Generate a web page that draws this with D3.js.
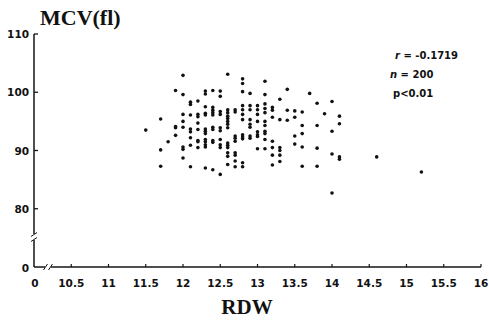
<!DOCTYPE html>
<html>
<head>
<meta charset="utf-8">
<script src="https://cdn.jsdelivr.net/npm/d3@7"></script>
<style>
  body { margin: 0; background: #fff; }
  .tick-label { font-family: "DejaVu Sans", Arial, sans-serif; font-weight: bold; font-size: 10.5px; fill: #111; }
  .title { font-family: "Liberation Serif", "Times New Roman", serif; font-weight: bold; fill: #111; }
  .stat { font-family: "DejaVu Sans", Arial, sans-serif; font-weight: bold; font-size: 10px; fill: #111; }
</style>
</head>
<body>
<div class="my-graph"></div>
<script>
// RDW columns (x) and the MCV values (y) read in each column
const rdwLevels = [11.5, 11.7, 11.8, 11.9, 12.0, 12.1, 12.2, 12.3, 12.4, 12.5, 12.6, 12.7, 12.8, 12.9,
  13.0, 13.1, 13.2, 13.3, 13.4, 13.5, 13.6, 13.7, 13.8, 13.9, 14.0, 14.1, 14.6, 15.2]
const mcvByLevel = [
  [93.5],
  [95.4, 90.1, 87.3],
  [91.5],
  [100.3, 94.1, 93.9, 92.6],
  [102.9, 99.6, 96.2, 95.0, 94.0, 90.6, 90.2, 88.7],
  [98.3, 97.9, 96.1, 93.7, 93.2, 92.2, 90.9, 87.2],
  [98.5, 96.2, 95.8, 94.7, 93.6, 91.7, 91.5, 90.5],
  [100.2, 99.7, 97.5, 96.4, 96.1, 93.7, 93.3, 92.9, 91.9, 91.5, 91.0, 90.6, 87.0],
  [100.3, 97.4, 96.9, 96.5, 96.1, 94.0, 93.6, 91.7, 91.4, 86.7],
  [100.2, 99.3, 96.7, 96.2, 93.9, 93.4, 91.9, 91.0, 90.5, 85.9],
  [103.1, 97.0, 96.5, 95.9, 95.5, 95.0, 94.5, 93.9, 91.3, 90.9, 90.5, 89.6, 89.0, 87.6],
  [97.0, 96.6, 92.5, 92.1, 91.6, 89.6, 89.2, 88.2, 87.2],
  [102.3, 101.5, 100.1, 97.7, 97.0, 96.2, 95.3, 92.7, 92.3, 92.0, 87.9, 87.2],
  [99.8, 97.7, 97.0, 95.3, 94.5, 94.0, 92.5, 92.1],
  [97.7, 97.0, 96.2, 95.0, 93.2, 92.7, 92.4, 90.3],
  [101.9, 99.6, 98.0, 97.2, 96.5, 95.0, 94.3, 93.3, 92.9, 91.9, 90.3],
  [97.4, 96.9, 95.7, 91.6, 90.5, 89.2, 87.5],
  [98.8, 95.3, 90.5, 90.0, 89.2, 88.1],
  [100.5, 96.9, 95.2],
  [96.8, 95.7, 92.5, 91.1],
  [96.6, 94.3, 92.9, 90.6, 87.3],
  [99.8],
  [98.1, 94.3, 90.4, 87.3],
  [96.3],
  [98.4, 93.3, 89.4, 82.7],
  [95.9, 94.6, 88.9, 88.5],
  [88.9],
  [86.3]
]

const xTicks = [10, 10.5, 11, 11.5, 12, 12.5, 13, 13.5, 14, 14.5, 15, 15.5, 16]
const xTickLabels = ['0', '10.5', '11', '11.5', '12', '12.5', '13', '13.5', '14', '14.5', '15', '15.5', '16']
const yTicks = [70, 80, 90, 100, 110]
const yTickLabels = ['0', '80', '90', '100', '110']
const statLines = [['r', ' = -0.1719'], ['n', ' = 200'], ['p', '<0.01']]

const dataset = []
rdwLevels.forEach((x, i) => {
  mcvByLevel[i].forEach(y => dataset.push({ x, y }))
})

const width = 489
const height = 320

const xScale = d3.scaleLinear().domain([10, 16]).range([34, 481])
const yScale = d3.scaleLinear().domain([70, 110]).range([267, 34])

const svg = d3.select('.my-graph')
  .append('svg')
  .attr('width', width)
  .attr('height', height)

const axisColor = '#151515'
const x0 = xScale(10)
const y0 = yScale(70)

// y axis with a break near the bottom
const yBreak = 237
svg.append('line')
  .attr('x1', x0).attr('x2', x0)
  .attr('y1', yScale(110)).attr('y2', yBreak - 3)
  .attr('stroke', axisColor).attr('stroke-width', 1.5)
svg.append('line')
  .attr('x1', x0).attr('x2', x0)
  .attr('y1', yBreak + 3).attr('y2', y0)
  .attr('stroke', axisColor).attr('stroke-width', 1.5)
;[-2.5, 2.5].forEach(d => {
  svg.append('line')
    .attr('x1', x0 - 3).attr('x2', x0 + 3)
    .attr('y1', yBreak + d + 2).attr('y2', yBreak + d - 2)
    .attr('stroke', axisColor).attr('stroke-width', 1)
})

// x axis with a break after the origin
const xBreak = 48
svg.append('line')
  .attr('x1', x0).attr('x2', xBreak - 3)
  .attr('y1', y0).attr('y2', y0)
  .attr('stroke', axisColor).attr('stroke-width', 1.5)
svg.append('line')
  .attr('x1', xBreak + 3).attr('x2', xScale(16))
  .attr('y1', y0).attr('y2', y0)
  .attr('stroke', axisColor).attr('stroke-width', 1.5)
;[-2.5, 2.5].forEach(d => {
  svg.append('line')
    .attr('x1', xBreak + d - 2).attr('x2', xBreak + d + 2)
    .attr('y1', y0 + 3).attr('y2', y0 - 3)
    .attr('stroke', axisColor).attr('stroke-width', 1)
})

// ticks, pointing inward
svg.selectAll('.ytick')
  .data(yTicks.slice(1))
  .enter().append('line')
  .attr('x1', x0).attr('x2', x0 + 4)
  .attr('y1', d => yScale(d)).attr('y2', d => yScale(d))
  .attr('stroke', axisColor).attr('stroke-width', 1.3)

svg.selectAll('.xtick')
  .data(xTicks.slice(1))
  .enter().append('line')
  .attr('x1', d => xScale(d)).attr('x2', d => xScale(d))
  .attr('y1', y0).attr('y2', y0 - 3)
  .attr('stroke', axisColor).attr('stroke-width', 1.2)

svg.selectAll('.ylab')
  .data(yTicks)
  .enter().append('text')
  .attr('class', 'tick-label')
  .attr('x', x0 - 5)
  .attr('y', d => yScale(d) + 4 + (d === 70 ? 1 : 0))
  .attr('text-anchor', 'end')
  .text((d, i) => yTickLabels[i])

svg.selectAll('.xlab')
  .data(xTicks)
  .enter().append('text')
  .attr('class', 'tick-label')
  .attr('x', d => xScale(d) + (d === 10 ? 1 : 0))
  .attr('y', 287)
  .attr('text-anchor', 'middle')
  .text((d, i) => xTickLabels[i])

svg.append('text')
  .attr('class', 'title')
  .attr('x', 40)
  .attr('y', 25)
  .attr('font-size', 22)
  .text('MCV(fl)')

svg.append('text')
  .attr('class', 'title')
  .attr('x', 247)
  .attr('y', 314)
  .attr('font-size', 21)
  .attr('text-anchor', 'middle')
  .text('RDW')

// stats block in the top right
const statY = [59, 78, 97]
const statX = [395, 390, 393]
statLines.forEach((s, i) => {
  const t = svg.append('text')
    .attr('class', 'stat')
    .attr('x', statX[i])
    .attr('y', statY[i])
  t.append('tspan').attr('font-style', i < 2 ? 'italic' : 'normal').text(s[0])
  t.append('tspan').text(s[1])
})

svg.selectAll('.dot')
  .data(dataset)
  .enter().append('circle')
  .attr('class', 'dot')
  .attr('cx', d => xScale(d.x))
  .attr('cy', d => yScale(d.y))
  .attr('r', 1.8)
  .attr('fill', '#111')
</script>
</body>
</html>
